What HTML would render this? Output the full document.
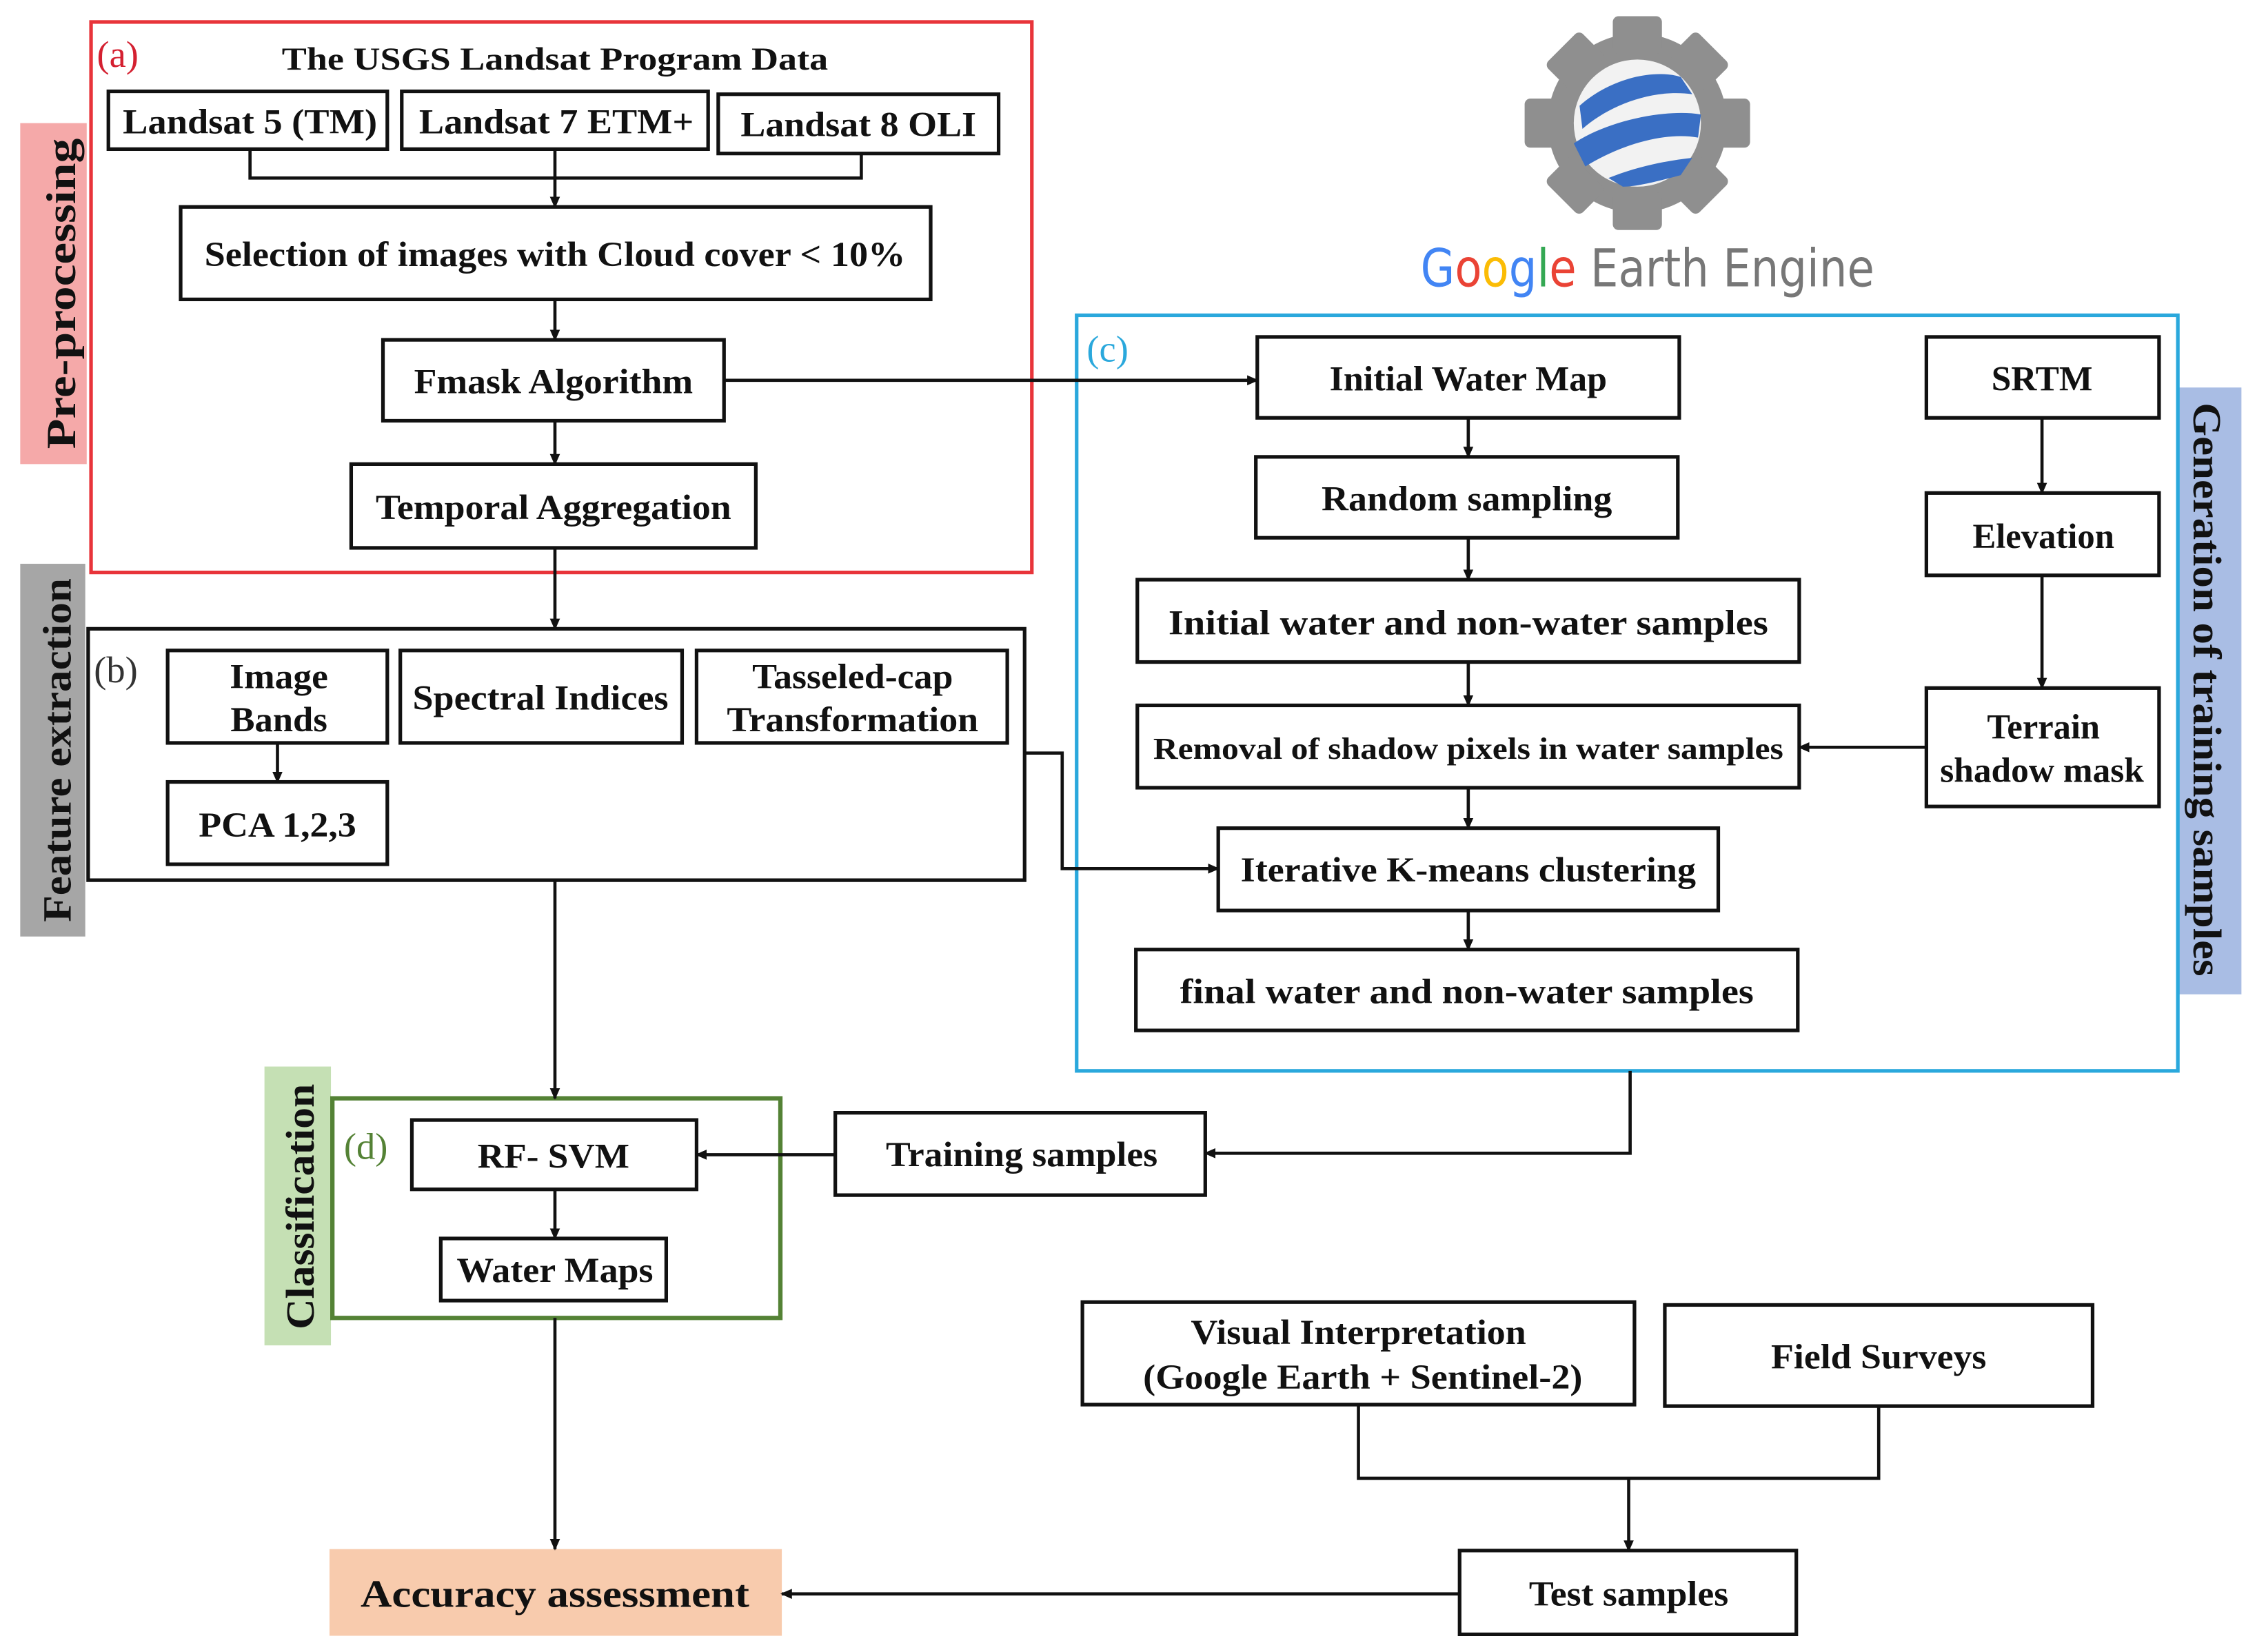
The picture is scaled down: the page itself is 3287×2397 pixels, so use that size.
<!DOCTYPE html>
<html><head><meta charset="utf-8"><style>
html,body{margin:0;padding:0;background:#fff;}
svg{display:block;}
text{font-family:"Liberation Serif",serif;font-weight:bold;fill:#111;}
</style></head><body>
<svg width="3287" height="2397" viewBox="0 0 1568 1143" xmlns="http://www.w3.org/2000/svg">
<defs>
<marker id="ar" markerWidth="8" markerHeight="8" refX="7" refY="4" orient="auto" markerUnits="userSpaceOnUse">
<path d="M0,0.5 L8,4 L0,7.5 Z" fill="#111"/></marker>
</defs>
<rect width="1568" height="1143" fill="#fff"/>

<!-- side labels -->
<rect x="14" y="85" width="46" height="236" fill="#f5a9a9"/>
<text transform="translate(52,203) rotate(-90)" text-anchor="middle" font-size="29" textLength="215" lengthAdjust="spacingAndGlyphs">Pre-processing</text>
<rect x="14" y="390" width="45" height="258" fill="#a6a6a6"/>
<text transform="translate(49,519) rotate(-90)" text-anchor="middle" font-size="28" textLength="238" lengthAdjust="spacingAndGlyphs">Feature extraction</text>
<rect x="183" y="738" width="46" height="193" fill="#c5e0b4"/>
<text transform="translate(217,835) rotate(-90)" text-anchor="middle" font-size="28" textLength="170" lengthAdjust="spacingAndGlyphs">Classification</text>
<rect x="1507" y="268" width="44" height="420" fill="#a9bde4"/>
<text transform="translate(1518,477) rotate(90)" text-anchor="middle" font-size="28" textLength="397" lengthAdjust="spacingAndGlyphs">Generation of training samples</text>
<rect x="228" y="1072" width="313" height="60" fill="#f8cbad"/>
<text x="384" y="1112" text-anchor="middle" font-size="27" textLength="269" lengthAdjust="spacingAndGlyphs">Accuracy assessment</text>

<!-- group boxes -->
<rect x="63" y="15" width="651" height="381" fill="none" stroke="#e8343a" stroke-width="2.5"/>
<text x="67" y="46" font-size="26" style="font-weight:normal;fill:#d42030">(a)</text>
<text x="384" y="48" text-anchor="middle" font-size="22" textLength="378" lengthAdjust="spacingAndGlyphs">The USGS Landsat Program Data</text>
<rect x="61" y="435" width="648" height="174" fill="none" stroke="#111" stroke-width="2.5"/>
<text x="65" y="472" font-size="26" style="font-weight:normal;fill:#333">(b)</text>
<rect x="745" y="218" width="762" height="523" fill="none" stroke="#2aa8dc" stroke-width="2.5"/>
<text x="752" y="250" font-size="26" style="font-weight:normal;fill:#2aa8dc">(c)</text>
<rect x="230" y="760" width="310" height="152" fill="none" stroke="#548235" stroke-width="3"/>
<text x="238" y="802" font-size="26" style="font-weight:normal;fill:#548235">(d)</text>

<g fill="#fff" stroke="#111" stroke-width="2.5">
<rect x="75" y="63" width="193" height="40"/>
<rect x="278" y="63" width="212" height="40"/>
<rect x="497" y="65" width="194" height="41"/>
<rect x="125" y="143" width="519" height="64"/>
<rect x="265" y="235" width="236" height="56"/>
<rect x="243" y="321" width="280" height="58"/>
<rect x="116" y="450" width="152" height="64"/>
<rect x="277" y="450" width="195" height="64"/>
<rect x="482" y="450" width="215" height="64"/>
<rect x="116" y="541" width="152" height="57"/>
<rect x="870" y="233" width="292" height="56"/>
<rect x="869" y="316" width="292" height="56"/>
<rect x="787" y="401" width="458" height="57"/>
<rect x="787" y="488" width="458" height="57"/>
<rect x="843" y="573" width="346" height="57"/>
<rect x="786" y="657" width="458" height="56"/>
<rect x="1333" y="233" width="161" height="56"/>
<rect x="1333" y="341" width="161" height="57"/>
<rect x="1333" y="476" width="161" height="82"/>
<rect x="578" y="770" width="256" height="57"/>
<rect x="285" y="775" width="197" height="48"/>
<rect x="305" y="857" width="156" height="43"/>
<rect x="749" y="901" width="382" height="71"/>
<rect x="1152" y="903" width="296" height="70"/>
<rect x="1010" y="1073" width="233" height="58"/>
</g>

<g font-size="24" text-anchor="middle" lengthAdjust="spacingAndGlyphs">
<text x="173" y="92" textLength="176" lengthAdjust="spacingAndGlyphs">Landsat 5 (TM)</text>
<text x="385" y="92" textLength="190" lengthAdjust="spacingAndGlyphs">Landsat 7 ETM+</text>
<text x="594" y="94" textLength="163" lengthAdjust="spacingAndGlyphs">Landsat 8 OLI</text>
<text x="384" y="184" textLength="485" lengthAdjust="spacingAndGlyphs">Selection of images with Cloud cover &lt; 10%</text>
<text x="383" y="272" textLength="193" lengthAdjust="spacingAndGlyphs">Fmask Algorithm</text>
<text x="383" y="359" textLength="246" lengthAdjust="spacingAndGlyphs">Temporal Aggregation</text>
<text x="193" y="476" textLength="68" lengthAdjust="spacingAndGlyphs">Image</text>
<text x="193" y="506" textLength="67" lengthAdjust="spacingAndGlyphs">Bands</text>
<text x="374" y="491" textLength="177" lengthAdjust="spacingAndGlyphs">Spectral Indices</text>
<text x="590" y="476" textLength="139" lengthAdjust="spacingAndGlyphs">Tasseled-cap</text>
<text x="590" y="506" textLength="174" lengthAdjust="spacingAndGlyphs">Transformation</text>
<text x="192" y="579" textLength="109" lengthAdjust="spacingAndGlyphs">PCA 1,2,3</text>
<text x="1016" y="270" textLength="192" lengthAdjust="spacingAndGlyphs">Initial Water Map</text>
<text x="1015" y="353" textLength="201" lengthAdjust="spacingAndGlyphs">Random sampling</text>
<text x="1016" y="439" textLength="415" lengthAdjust="spacingAndGlyphs">Initial water and non-water samples</text>
<text x="1016" y="525" font-size="21" textLength="436" lengthAdjust="spacingAndGlyphs">Removal of shadow pixels in water samples</text>
<text x="1016" y="610" textLength="315" lengthAdjust="spacingAndGlyphs">Iterative K-means clustering</text>
<text x="1015" y="694" textLength="397" lengthAdjust="spacingAndGlyphs">final water and non-water samples</text>
<text x="1413" y="270" textLength="70" lengthAdjust="spacingAndGlyphs">SRTM</text>
<text x="1414" y="379" textLength="98" lengthAdjust="spacingAndGlyphs">Elevation</text>
<text x="1414" y="511" textLength="78" lengthAdjust="spacingAndGlyphs">Terrain</text>
<text x="1413" y="541" textLength="141" lengthAdjust="spacingAndGlyphs">shadow mask</text>
<text x="707" y="807" textLength="188" lengthAdjust="spacingAndGlyphs">Training samples</text>
<text x="383" y="808" textLength="105" lengthAdjust="spacingAndGlyphs">RF- SVM</text>
<text x="384" y="887" textLength="136" lengthAdjust="spacingAndGlyphs">Water Maps</text>
<text x="940" y="930" textLength="232" lengthAdjust="spacingAndGlyphs">Visual Interpretation</text>
<text x="943" y="961" textLength="304" lengthAdjust="spacingAndGlyphs">(Google Earth + Sentinel-2)</text>
<text x="1300" y="947" textLength="149" lengthAdjust="spacingAndGlyphs">Field Surveys</text>
<text x="1127" y="1111" textLength="138" lengthAdjust="spacingAndGlyphs">Test samples</text>
</g>

<g fill="none" stroke="#111" stroke-width="2.2">
<polyline points="173,103 173,123 596,123 596,106"/>
<line x1="384" y1="103" x2="384" y2="143" marker-end="url(#ar)"/>
<line x1="384" y1="207" x2="384" y2="235" marker-end="url(#ar)"/>
<line x1="384" y1="291" x2="384" y2="321" marker-end="url(#ar)"/>
<line x1="384" y1="379" x2="384" y2="435" marker-end="url(#ar)"/>
<line x1="501" y1="263" x2="870" y2="263" marker-end="url(#ar)"/>
<line x1="192" y1="514" x2="192" y2="541" marker-end="url(#ar)"/>
<polyline points="709,521 735,521 735,601 843,601" marker-end="url(#ar)"/>
<line x1="1016" y1="289" x2="1016" y2="316" marker-end="url(#ar)"/>
<line x1="1016" y1="372" x2="1016" y2="401" marker-end="url(#ar)"/>
<line x1="1016" y1="458" x2="1016" y2="488" marker-end="url(#ar)"/>
<line x1="1016" y1="545" x2="1016" y2="573" marker-end="url(#ar)"/>
<line x1="1016" y1="630" x2="1016" y2="657" marker-end="url(#ar)"/>
<line x1="1413" y1="289" x2="1413" y2="341" marker-end="url(#ar)"/>
<line x1="1413" y1="398" x2="1413" y2="476" marker-end="url(#ar)"/>
<line x1="1333" y1="517" x2="1245" y2="517" marker-end="url(#ar)"/>
<polyline points="1128,741 1128,798 834,798" marker-end="url(#ar)"/>
<line x1="578" y1="799" x2="482" y2="799" marker-end="url(#ar)"/>
<line x1="384" y1="609" x2="384" y2="760" marker-end="url(#ar)"/>
<line x1="384" y1="823" x2="384" y2="857" marker-end="url(#ar)"/>
<line x1="384" y1="912" x2="384" y2="1072" marker-end="url(#ar)"/>
<polyline points="940,972 940,1023 1300,1023 1300,973"/>
<line x1="1127" y1="1023" x2="1127" y2="1073" marker-end="url(#ar)"/>
<line x1="1010" y1="1103" x2="541" y2="1103" marker-end="url(#ar)"/>
</g>

<!-- Google Earth Engine logo -->
<g transform="translate(1133,85)">
<g fill="#8f8f8f">
<circle r="62"/>
<rect x="-17" y="-74" width="34" height="26" rx="4"/>
<rect x="-17" y="48" width="34" height="26" rx="4"/>
<rect x="-78" y="-17" width="26" height="34" rx="4"/>
<rect x="52" y="-17" width="26" height="34" rx="4"/>
<rect x="-17" y="-74" width="34" height="26" rx="4" transform="rotate(45)"/>
<rect x="-17" y="48" width="34" height="26" rx="4" transform="rotate(45)"/>
<rect x="-17" y="-74" width="34" height="26" rx="4" transform="rotate(-45)"/>
<rect x="-17" y="48" width="34" height="26" rx="4" transform="rotate(-45)"/>
</g>
<circle r="44" fill="#f2f2f2"/>
<path d="M-40,-12 C-20,-30 10,-38 30,-32 L38,-20 C10,-24 -20,-12 -38,4 Z" fill="#3a6fc4"/>
<path d="M-44,14 C-20,-2 20,-10 44,-6 L42,10 C20,6 -10,14 -36,30 Z" fill="#3a6fc4"/>
<path d="M-20,38 C0,30 20,26 38,24 L30,36 C15,40 0,44 -10,44 Z" fill="#3a6fc4"/>
</g>
<text x="983" y="198" font-size="36" textLength="314" lengthAdjust="spacingAndGlyphs" style="font-family:'DejaVu Sans','Liberation Sans',sans-serif;font-weight:normal;"><tspan fill="#4285f4">G</tspan><tspan fill="#ea4335">o</tspan><tspan fill="#fbbc05">o</tspan><tspan fill="#4285f4">g</tspan><tspan fill="#34a853">l</tspan><tspan fill="#ea4335">e</tspan><tspan fill="#777"> Earth Engine</tspan></text>
</svg>
</body></html>
